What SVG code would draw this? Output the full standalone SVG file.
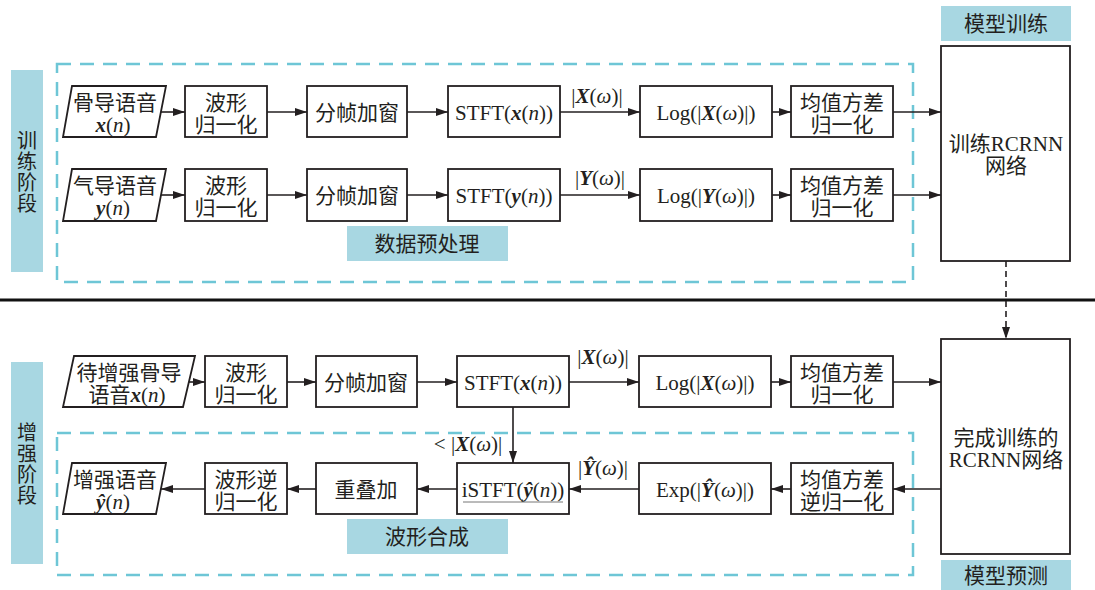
<svg xmlns="http://www.w3.org/2000/svg" width="1095" height="590" viewBox="0 0 1095 590">
<style>
.box{fill:#fff;stroke:#231f20;stroke-width:1.8}
.lbl{fill:#a8d7e2}
.dash{fill:none;stroke:#6ec6d6;stroke-width:2.5;stroke-dasharray:14 9}
.t{font-family:"Liberation Serif","Noto Sans CJK SC",serif;font-size:21px;fill:#231f20;text-anchor:middle}
.v{font-family:"Noto Sans CJK SC",sans-serif;font-size:20px;fill:#231f20;text-anchor:middle;writing-mode:vertical-rl;letter-spacing:1px}
.bi{font-weight:bold;font-style:italic}
.it{font-style:italic}
.conn{stroke:#231f20;stroke-width:1.6;fill:none;marker-end:url(#ah)}
</style>
<defs>
<marker id="ah" markerUnits="userSpaceOnUse" markerWidth="12" markerHeight="8" refX="12" refY="4" orient="auto"><path d="M0,0 L12,4 L0,8 z" fill="#231f20"/></marker>
</defs>
<rect width="1095" height="590" fill="#fff"/>
<!-- separator -->
<line x1="0" y1="300" x2="1095" y2="300" stroke="#111" stroke-width="3"/>
<!-- stage labels -->
<g id="stage-train"><rect class="lbl" x="11" y="70" width="32" height="202"/>
<text class="v" x="27" y="172">训练阶段</text></g>
<g id="stage-enh"><rect class="lbl" x="11" y="362" width="32" height="202"/>
<text class="v" x="27" y="464">增强阶段</text></g>
<!-- dashed groups -->
<g id="group-pre"><rect class="dash" x="57" y="64" width="856" height="218"/>
<rect class="lbl" x="347" y="226" width="161" height="35"/><text class="t" x="427" y="251">数据预处理</text></g>
<g id="group-syn"><rect class="dash" x="57" y="433" width="856" height="142"/>
<rect class="lbl" x="347" y="519" width="161" height="35"/><text class="t" x="427" y="544">波形合成</text></g>
<!-- model labels -->
<g id="lbl-train"><rect class="lbl" x="941" y="6" width="130" height="35"/><text class="t" x="1006" y="31">模型训练</text></g>
<g id="lbl-pred"><rect class="lbl" x="941" y="560" width="130" height="30"/><text class="t" x="1006" y="583">模型预测</text></g>
<!-- row 1 -->
<g id="n-bone"><polygon class="box" points="72,86 166,86 156,137 63,137"/><text class="t" x="115" y="110">骨导语音</text><text class="t" x="113" y="132"><tspan class="bi">x</tspan>(<tspan class="it">n</tspan>)</text></g>
<g id="n-norm1"><rect class="box" x="185" y="86" width="82" height="51"/><text class="t" x="226" y="110">波形</text><text class="t" x="226" y="132">归一化</text></g>
<g id="n-frame1"><rect class="box" x="307" y="86" width="100" height="51"/><text class="t" x="357" y="120">分帧加窗</text></g>
<g id="n-stft1"><rect class="box" x="448" y="86" width="112" height="51"/><text class="t" x="504" y="120">STFT(<tspan class="bi">x</tspan>(<tspan class="it">n</tspan>))</text></g>
<g id="n-log1"><rect class="box" x="640" y="86" width="132" height="51"/><text class="t" x="706" y="120">Log(|<tspan class="bi">X</tspan>(<tspan class="it">ω</tspan>)|)</text></g>
<g id="n-mv1"><rect class="box" x="791" y="86" width="102" height="51"/><text class="t" x="842" y="110">均值方差</text><text class="t" x="842" y="132">归一化</text></g>
<!-- row 2 -->
<g id="n-air"><polygon class="box" points="72,169 166,169 156,221 63,221"/><text class="t" x="115" y="193">气导语音</text><text class="t" x="113" y="215"><tspan class="bi">y</tspan>(<tspan class="it">n</tspan>)</text></g>
<g id="n-norm2"><rect class="box" x="185" y="169" width="82" height="52"/><text class="t" x="226" y="193">波形</text><text class="t" x="226" y="215">归一化</text></g>
<g id="n-frame2"><rect class="box" x="307" y="169" width="100" height="52"/><text class="t" x="357" y="203">分帧加窗</text></g>
<g id="n-stft2"><rect class="box" x="448" y="169" width="112" height="52"/><text class="t" x="504" y="203">STFT(<tspan class="bi">y</tspan>(<tspan class="it">n</tspan>))</text></g>
<g id="n-log2"><rect class="box" x="640" y="169" width="132" height="52"/><text class="t" x="706" y="203">Log(|<tspan class="bi">Y</tspan>(<tspan class="it">ω</tspan>)|)</text></g>
<g id="n-mv2"><rect class="box" x="791" y="169" width="102" height="52"/><text class="t" x="842" y="193">均值方差</text><text class="t" x="842" y="215">归一化</text></g>
<!-- training net -->
<g id="n-trainnet"><rect class="box" x="941" y="46" width="129" height="215"/><text class="t" x="1006" y="151">训练RCRNN</text><text class="t" x="1006" y="173">网络</text></g>
<!-- row 3 -->
<g id="n-in"><polygon class="box" points="74,356 195,356 183,407 63,407"/><text class="t" x="129" y="380">待增强骨导</text><text class="t" x="127" y="402">语音<tspan class="bi">x</tspan>(<tspan class="it">n</tspan>)</text></g>
<g id="n-norm3"><rect class="box" x="205" y="356" width="82" height="51"/><text class="t" x="246" y="380">波形</text><text class="t" x="246" y="402">归一化</text></g>
<g id="n-frame3"><rect class="box" x="316" y="356" width="101" height="51"/><text class="t" x="366" y="390">分帧加窗</text></g>
<g id="n-stft3"><rect class="box" x="457" y="356" width="112" height="51"/><text class="t" x="513" y="390">STFT(<tspan class="bi">x</tspan>(<tspan class="it">n</tspan>))</text></g>
<g id="n-log3"><rect class="box" x="639" y="356" width="132" height="51"/><text class="t" x="705" y="390">Log(|<tspan class="bi">X</tspan>(<tspan class="it">ω</tspan>)|)</text></g>
<g id="n-mv3"><rect class="box" x="791" y="356" width="102" height="51"/><text class="t" x="842" y="380">均值方差</text><text class="t" x="842" y="402">归一化</text></g>
<!-- completed net -->
<g id="n-donenet"><rect class="box" x="941" y="339" width="129" height="215"/><text class="t" x="1006" y="445">完成训练的</text><text class="t" x="1006" y="467">RCRNN网络</text></g>
<!-- row 4 -->
<g id="n-out"><polygon class="box" points="72,463 166,463 156,514 63,514"/><text class="t" x="115" y="487">增强语音</text><text class="t" x="113" y="509"><tspan class="bi">ŷ</tspan>(<tspan class="it">n</tspan>)</text></g>
<g id="n-inorm"><rect class="box" x="205" y="463" width="82" height="51"/><text class="t" x="246" y="487">波形逆</text><text class="t" x="246" y="509">归一化</text></g>
<g id="n-ola"><rect class="box" x="316" y="463" width="101" height="51"/><text class="t" x="366" y="497">重叠加</text></g>
<g id="n-istft"><rect class="box" x="457" y="463" width="112" height="51"/><text class="t" x="513" y="497">iSTFT(<tspan class="bi">ŷ</tspan>(<tspan class="it">n</tspan>))</text><line x1="463" y1="502" x2="563" y2="502" stroke="#777" stroke-width="1"/></g>
<g id="n-exp"><rect class="box" x="639" y="463" width="132" height="51"/><text class="t" x="705" y="497">Exp(|<tspan class="bi">Ŷ</tspan>(<tspan class="it">ω</tspan>)|)</text></g>
<g id="n-imv"><rect class="box" x="791" y="463" width="102" height="51"/><text class="t" x="842" y="487">均值方差</text><text class="t" x="842" y="509">逆归一化</text></g>
<!-- connectors -->
<g id="connectors">
<line class="conn" x1="161" y1="112" x2="185" y2="112"/>
<line class="conn" x1="267" y1="112" x2="307" y2="112"/>
<line class="conn" x1="407" y1="112" x2="448" y2="112"/>
<line class="conn" x1="560" y1="112" x2="640" y2="112"/>
<line class="conn" x1="772" y1="112" x2="791" y2="112"/>
<line class="conn" x1="893" y1="112" x2="941" y2="112"/>
<line class="conn" x1="161" y1="195" x2="185" y2="195"/>
<line class="conn" x1="267" y1="195" x2="307" y2="195"/>
<line class="conn" x1="407" y1="195" x2="448" y2="195"/>
<line class="conn" x1="560" y1="195" x2="640" y2="195"/>
<line class="conn" x1="772" y1="195" x2="791" y2="195"/>
<line class="conn" x1="893" y1="195" x2="941" y2="195"/>
<line class="conn" x1="1006" y1="261" x2="1006" y2="339" stroke-dasharray="6 4"/>
<line class="conn" x1="189" y1="382" x2="205" y2="382"/>
<line class="conn" x1="287" y1="382" x2="316" y2="382"/>
<line class="conn" x1="417" y1="382" x2="457" y2="382"/>
<line class="conn" x1="569" y1="382" x2="639" y2="382"/>
<line class="conn" x1="771" y1="382" x2="791" y2="382"/>
<line class="conn" x1="893" y1="382" x2="941" y2="382"/>
<line class="conn" x1="513" y1="407" x2="513" y2="463"/>
<line class="conn" x1="941" y1="489" x2="893" y2="489"/>
<line class="conn" x1="791" y1="489" x2="771" y2="489"/>
<line class="conn" x1="639" y1="489" x2="569" y2="489"/>
<line class="conn" x1="457" y1="489" x2="417" y2="489"/>
<line class="conn" x1="316" y1="489" x2="287" y2="489"/>
<line class="conn" x1="205" y1="489" x2="161" y2="489"/>
<text class="t" x="597" y="103">|<tspan class="bi">X</tspan>(<tspan class="it">ω</tspan>)|</text>
<text class="t" x="600" y="185">|<tspan class="bi">Y</tspan>(<tspan class="it">ω</tspan>)|</text>
<text class="t" x="603" y="364">|<tspan class="bi">X</tspan>(<tspan class="it">ω</tspan>)|</text>
<text class="t" x="603" y="475">|<tspan class="bi">Ŷ</tspan>(<tspan class="it">ω</tspan>)|</text>
<text class="t" x="468" y="451">&lt; |<tspan class="bi">X</tspan>(<tspan class="it">ω</tspan>)|</text>
</g>
</svg>
